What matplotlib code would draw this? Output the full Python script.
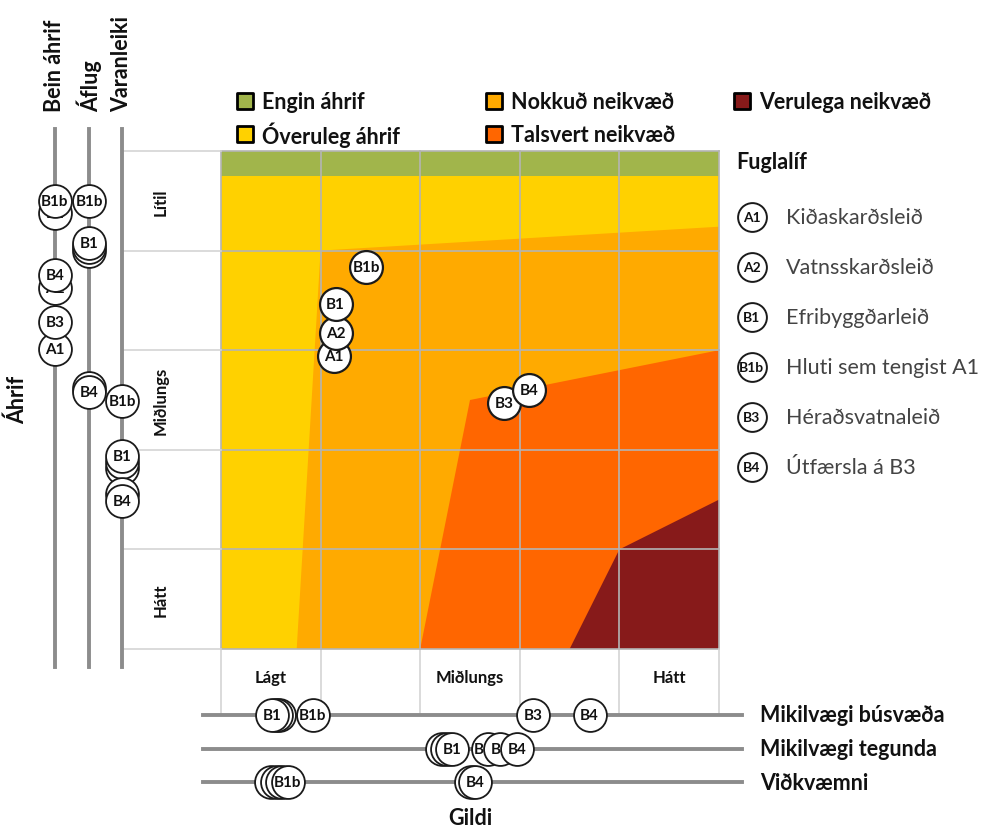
import numpy as np
import matplotlib.pyplot as plt
from matplotlib.patches import Polygon

plt.rcParams['font.family'] = ['Lato', 'DejaVu Sans']

# impact zones (x = Gildi, y = Áhrif counted downward from the top, grid units 0..5)
zone_names = ['Engin áhrif', 'Óveruleg áhrif', 'Nokkuð neikvæð', 'Talsvert neikvæð', 'Verulega neikvæð']
zone_colors = ['#a1b54b', '#ffd100', '#ffaa00', '#ff6600', '#871a1a']
green_zone = [(0, 0), (5, 0), (5, 0.25), (0, 0.25)]
yellow_zone = [(0, 0.25), (5, 0.25), (5, 5), (0, 5)]
orange_zone = [(1, 1), (5, 0.76), (5, 5), (0.76, 5)]
red_zone = [(2.5, 2.5), (5, 2), (5, 5), (2, 5)]
darkred_zone = [(4, 4), (5, 3.5), (5, 5), (3.5, 5)]

y_cats = ['Lítil', 'Miðlungs', 'Hátt']
x_cats = ['Lágt', 'Miðlungs', 'Hátt']

routes = ['A1', 'A2', 'B1', 'B1b', 'B3', 'B4']
route_names = ['Kiðaskarðsleið', 'Vatnsskarðsleið', 'Efribyggðarleið',
               'Hluti sem tengist A1', 'Héraðsvatnaleið', 'Útfærsla á B3']

# combined position in the matrix
main_x = [1.13, 1.15, 1.15, 1.46, 2.84, 3.09]
main_y = [2.06, 1.83, 1.54, 1.16, 2.53, 2.40]

# áhrif sub-criteria (left)
ahrif_names = ['Bein áhrif', 'Áflug', 'Varanleiki']
bein_ahrif = [1.99, 1.38, 0.62, 0.50, 1.72, 1.25]
aflug = [1.00, 0.96, 0.92, 0.50, 2.38, 2.42]
varanleiki = [3.18, 3.12, 3.06, 2.51, 3.44, 3.51]

# gildi sub-criteria (bottom)
gildi_names = ['Mikilvægi búsvæða', 'Mikilvægi tegunda', 'Viðkvæmni']
busvaeda = [0.58, 0.55, 0.51, 0.92, 3.13, 3.70]
tegunda = [2.22, 2.27, 2.32, 2.68, 2.80, 2.97]
vidkvaemni = [0.50, 0.56, 0.61, 0.67, 2.51, 2.55]

fig = plt.figure(figsize=(9.86, 8.28), dpi=100)
ax = fig.add_axes([0, 0, 1, 1])
ax.set_xlim(-2.219, 7.681)
ax.set_ylim(6.787, -1.526)
ax.axis('off')

for poly, col in zip([green_zone, yellow_zone, orange_zone, red_zone, darkred_zone], zone_colors):
    ax.add_patch(Polygon(poly, closed=True, facecolor=col, edgecolor='none', zorder=1))

# grid
for k in range(6):
    ax.plot([0, 5], [k, k], color='#b4b4b4', lw=1.2, zorder=2)
    ax.plot([k, k], [0, 5], color='#b4b4b4', lw=1.2, zorder=2)
    ax.plot([-0.98, 0], [k, k], color='#d4d4d4', lw=1.2, zorder=2)
    ax.plot([k, k], [5, 5.64], color='#d4d4d4', lw=1.2, zorder=2)

# category labels
for i, lab in enumerate(y_cats):
    ax.text(-0.61, 0.5 + 2 * i, lab, rotation=90, ha='center', va='center',
            fontsize=12, fontweight='bold', color='#111')
for i, lab in enumerate(x_cats):
    ax.text(0.5 + 2 * i, 5.28, lab, ha='center', va='center',
            fontsize=12, fontweight='bold', color='#111')

# side axes
left_x = [-1.667, -1.325, -0.994]
for lx, name in zip(left_x, ahrif_names):
    ax.plot([lx, lx], [-0.22, 5.18], color='#8c8c8c', lw=2.8, zorder=3)
    ax.text(lx, -0.40, name, rotation=90, ha='center', va='bottom',
            fontsize=15.5, fontweight='bold', color='#111')
bottom_y = [5.66, 6.00, 6.34]
for by, name in zip(bottom_y, gildi_names):
    ax.plot([-0.18, 5.23], [by, by], color='#8c8c8c', lw=2.8, zorder=3)
    ax.text(5.41, by, name, ha='left', va='center',
            fontsize=15.5, fontweight='bold', color='#111')

ax.text(-2.04, 2.49, 'Áhrif', rotation=90, ha='center', va='center',
        fontsize=15.5, fontweight='bold', color='#111')
ax.text(2.5, 6.69, 'Gildi', ha='center', va='center',
        fontsize=15.5, fontweight='bold', color='#111')


def place(xs, ys, labels, size=560, fs=11, lw=1.3):
    for i, (x, y, lab) in enumerate(zip(xs, ys, labels)):
        ax.scatter([x], [y], s=size, facecolor='white', edgecolor='#1a1a1a',
                   linewidth=lw, zorder=10 + 2 * i)
        ax.text(x, y, lab, ha='center', va='center', fontsize=fs,
                fontweight='bold', color='#111', zorder=11 + 2 * i)


place(main_x, main_y, routes, lw=1.6)
for lx, vals in zip(left_x, [bein_ahrif, aflug, varanleiki]):
    place([lx] * len(vals), vals, routes)
for by, vals in zip(bottom_y, [busvaeda, tegunda, vidkvaemni]):
    place(vals, [by] * len(vals), routes)

# zone legend
leg_x = [0.24, 0.24, 2.74, 2.74, 5.23]
leg_y = [-0.50, -0.17, -0.50, -0.17, -0.50]
for lx, ly, name, col in zip(leg_x, leg_y, zone_names, zone_colors):
    ax.scatter([lx], [ly], marker='s', s=130, facecolor=col, edgecolor='black',
               linewidth=2, zorder=5)
    ax.text(lx + 0.17, ly, name, ha='left', va='center', fontsize=15.5,
            fontweight='bold', color='#111')

# route legend
ax.text(5.17, 0.11, 'Fuglalíf', ha='left', va='center', fontsize=15.5,
        fontweight='bold', color='#111')
for i, (code, name) in enumerate(zip(routes, route_names)):
    ry = 0.66 + 0.503 * i
    ax.scatter([5.33], [ry], s=430, facecolor='white', edgecolor='#1a1a1a',
               linewidth=1.4, zorder=5)
    ax.text(5.33, ry, code, ha='center', va='center', fontsize=10,
            fontweight='bold', color='#111', zorder=6)
    ax.text(5.67, ry, name, ha='left', va='center', fontsize=15.5,
            color='#444')

fig.savefig('out.png', dpi=100)
